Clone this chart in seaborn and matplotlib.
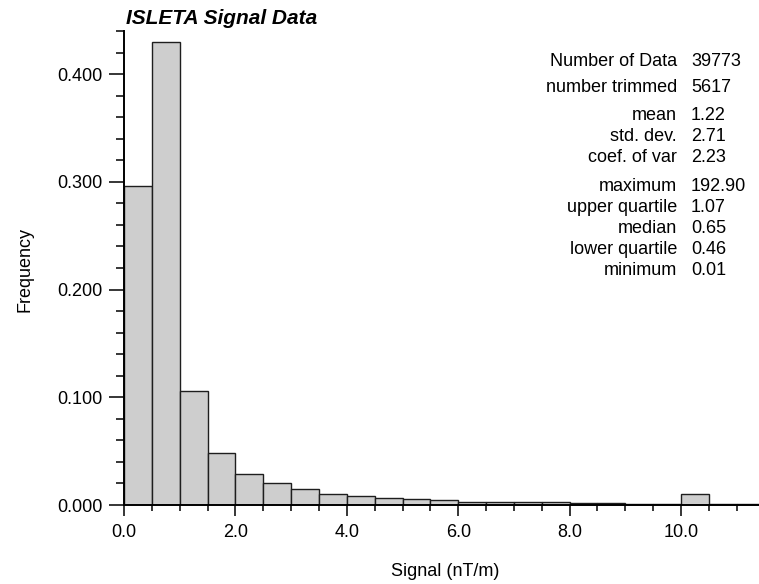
import numpy as np
import pandas as pd
import matplotlib
matplotlib.use('Agg')
import matplotlib.pyplot as plt
import seaborn as sns
from matplotlib.ticker import MultipleLocator, FormatStrFormatter

# histogram bins (signal, nT/m) and their frequencies
bin_edges = [0.0, 0.5, 1.0, 1.5, 2.0, 2.5, 3.0, 3.5, 4.0, 4.5, 5.0, 5.5,
             6.0, 6.5, 7.0, 7.5, 8.0, 8.5, 9.0, 9.5, 10.0, 10.5, 11.0, 11.5]
frequency = [0.2965, 0.4295, 0.1055, 0.0483, 0.0284, 0.0201, 0.0145, 0.0102,
             0.0084, 0.0068, 0.0056, 0.0043, 0.0030, 0.0030, 0.0025, 0.0025,
             0.0016, 0.0016, 0.0012, 0.0012, 0.0105, 0.0006, 0.0006]

stat_names = ['Number of Data', 'number trimmed', 'mean', 'std. dev.', 'coef. of var',
              'maximum', 'upper quartile', 'median', 'lower quartile', 'minimum']
stat_values = ['39773', '5617', '1.22', '2.71', '2.23',
               '192.90', '1.07', '0.65', '0.46', '0.01']

centers = [(a + b) / 2 for a, b in zip(bin_edges[:-1], bin_edges[1:])]
df = pd.DataFrame({'signal': centers, 'freq': frequency})

sns.set_style('ticks')
plt.rcParams['font.family'] = ['Liberation Sans', 'DejaVu Sans']
plt.rcParams['text.color'] = 'black'
plt.rcParams['axes.labelcolor'] = 'black'

W, H = 759, 584
fig = plt.figure(figsize=(W / 100, H / 100), dpi=100)
ax = fig.add_axes([124 / W, 1 - 505 / H, 1 - 124 / W, (505 - 31) / H])

sns.histplot(data=df, x='signal', weights='freq', bins=bin_edges, ax=ax,
             color='#cecece', edgecolor='#1e1e1e', linewidth=1.0, alpha=1)

ax.set_xlim(0, 11.4)
ax.set_ylim(0, 0.44)
ax.xaxis.set_major_locator(MultipleLocator(2.0))
ax.xaxis.set_minor_locator(MultipleLocator(0.5))
ax.yaxis.set_major_locator(MultipleLocator(0.1))
ax.yaxis.set_minor_locator(MultipleLocator(0.02))
ax.xaxis.set_major_formatter(FormatStrFormatter('%.1f'))
ax.yaxis.set_major_formatter(FormatStrFormatter('%.3f'))

ax.tick_params(axis='x', which='major', length=8, width=1.1, pad=5.5, labelsize=13, colors='black')
ax.tick_params(axis='x', which='minor', length=4.5, width=1.1, colors='black')
ax.tick_params(axis='y', which='major', length=11, width=1.1, pad=4.5, labelsize=13, colors='black')
ax.tick_params(axis='y', which='minor', length=6, width=1.1, colors='black')

sns.despine(ax=ax)
for s in ['left', 'bottom']:
    ax.spines[s].set_linewidth(1.4)
    ax.spines[s].set_color('black')

ax.set_xlabel('')
ax.set_ylabel('')
fig.text(445 / W, 1 - 571 / H, 'Signal (nT/m)', fontsize=13, ha='center', va='center')
fig.text(25 / W, 1 - 269 / H, 'Frequency', fontsize=13, ha='center', va='center', rotation=90)

fig.text(126 / W, 1 - 24 / H, 'ISLETA Signal Data', fontsize=15, fontweight='bold',
         fontstyle='italic', ha='left', va='baseline')

baselines = [65.7, 92.3, 120, 141, 162, 191, 212, 233, 254, 275]
for name, val, yb in zip(stat_names, stat_values, baselines):
    fig.text(677 / W, 1 - yb / H, name, fontsize=13, ha='right', va='baseline')
    fig.text(691 / W, 1 - yb / H, val, fontsize=13, ha='left', va='baseline')

fig.savefig('out.png', dpi=100)
